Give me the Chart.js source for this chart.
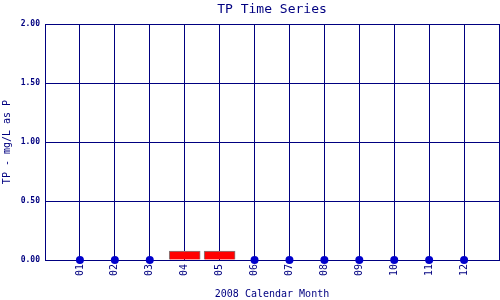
<!DOCTYPE html>
<html><head><meta charset="utf-8">
<script src="https://cdn.jsdelivr.net/npm/chart.js@4"></script>
<style>html,body{margin:0;padding:0;background:#fff}#w{width:500px;height:300px}</style>
</head><body><div id="w"><canvas id="c"></canvas></div>
<script>
const months = ['01','02','03','04','05','06','07','08','09','10','11','12'];
const tpValues = [0, 0, 0, null, null, 0, 0, 0, 0, 0, 0, 0];
const barValues = [null, null, null, 0.075, 0.075, null, null, null, null, null, null, null];
const yTicks = [0, 0.5, 1.0, 1.5, 2.0];

const NAVY = '#000080';
const MONO = '"DejaVu Sans Mono", "Liberation Mono", monospace';

const pts = months.map((m, i) => ({x: i + 1, y: tpValues[i]})).filter(p => p.y !== null);
const bars = months.map((m, i) => ({x: i + 1, y: barValues[i]})).filter(p => p.y !== null);

new Chart(document.getElementById('c'), {
  data: {
    datasets: [
      {type: 'bar', data: bars, backgroundColor: '#ff0000', borderColor: '#808080', borderWidth: 1, barThickness: 31, order: 2},
      {type: 'scatter', data: pts, pointRadius: 4, pointBackgroundColor: '#0000cc', pointBorderColor: '#0000cc', borderWidth: 0, clip: false, order: 1}
    ]
  },
  options: {
    responsive: true, maintainAspectRatio: false, animation: false,
    layout: {autoPadding: false, padding: {right: 1, left: 0, top: 0, bottom: 0}},
    plugins: {
      legend: {display: false}, tooltip: {enabled: false},
      title: {display: true, fullSize: false, text: 'TP Time Series', color: NAVY, font: {family: MONO, size: 13, weight: 'normal'}, padding: {top: 2, bottom: 6.4}}
    },
    scales: {
      x: {
        type: 'linear', min: 0, max: months.length + 1, offset: false,
        afterBuildTicks: s => { s.ticks = Array.from({length: months.length + 2}, (_, i) => ({value: i})); },
        afterFit: s => { s.height = 40; s.paddingLeft = 0; s.paddingRight = 0; },
        grid: {color: NAVY, lineWidth: 1, drawTicks: false, offset: false},
        border: {color: NAVY, width: 1},
        ticks: {autoSkip: false, minRotation: 90, maxRotation: 90, padding: 4, color: NAVY,
          font: {family: MONO, size: 10, weight: 'normal'},
          callback: v => (v >= 1 && v <= months.length) ? months[v - 1] : ''},
        title: {display: true, text: '2008 Calendar Month', color: NAVY, font: {family: MONO, size: 10}, padding: {top: 0, bottom: 0}}
      },
      y: {
        type: 'linear', min: 0, max: 2,
        afterBuildTicks: s => { s.ticks = yTicks.map(v => ({value: v})); },
        afterFit: s => { s.width = 45; },
        grid: {color: NAVY, lineWidth: 1, drawTicks: false},
        border: {color: NAVY, width: 1},
        ticks: {padding: 5, color: NAVY, font: {family: MONO, size: 8, weight: 'bold'}, callback: v => Number(v).toFixed(2)},
        title: {display: true, text: 'TP - mg/L as P', color: NAVY, font: {family: MONO, size: 10}, padding: {top: 1, bottom: 0}}
      }
    }
  }
});
</script></body></html>
